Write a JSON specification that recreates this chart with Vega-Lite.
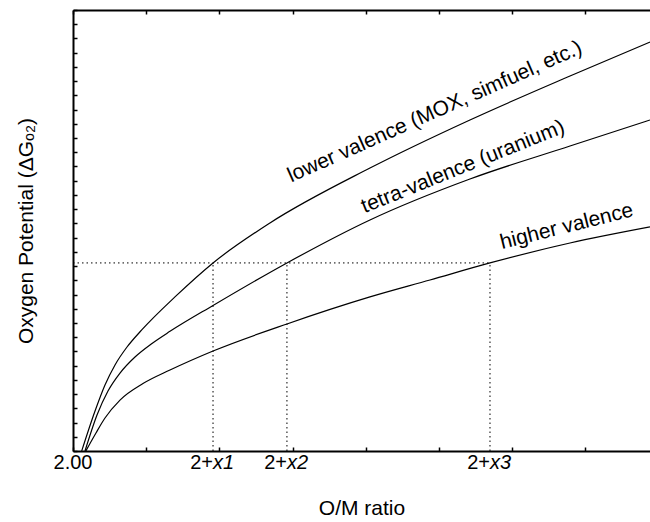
{
  "$schema": "https://vega.github.io/schema/vega-lite/v6.json",
  "width": 577,
  "height": 441,
  "autosize": {"type": "none"},
  "padding": {"left": 73, "top": 10, "right": 0, "bottom": 71},
  "background": "white",
  "config": {
    "view": {"stroke": null},
    "font": "Liberation Sans",
    "axis": {
      "domainColor": "black",
      "domainWidth": 2,
      "tickColor": "black",
      "tickWidth": 1.5,
      "tickSize": -4,
      "labels": false,
      "grid": false,
      "titleFont": "Liberation Sans",
      "titleFontSize": 21,
      "titleFontWeight": "normal",
      "titleColor": "black"
    }
  },
  "datasets": {
    "curves": [
      {"curve": "lower", "x": 0.119, "y": 0},
      {"curve": "lower", "x": 0.301, "y": 2.81},
      {"curve": "lower", "x": 0.437, "y": 4.64},
      {"curve": "lower", "x": 0.574, "y": 6.05},
      {"curve": "lower", "x": 0.738, "y": 7.31},
      {"curve": "lower", "x": 0.939, "y": 8.51},
      {"curve": "lower", "x": 1.393, "y": 10.83},
      {"curve": "lower", "x": 1.913, "y": 13.22},
      {"curve": "lower", "x": 2.691, "y": 16.03},
      {"curve": "lower", "x": 4.057, "y": 19.89},
      {"curve": "lower", "x": 5.423, "y": 23.27},
      {"curve": "lower", "x": 6.790, "y": 26.36},
      {"curve": "lower", "x": 7.883, "y": 28.75},
      {"curve": "tetra", "x": 0.164, "y": 0},
      {"curve": "tetra", "x": 0.328, "y": 2.53},
      {"curve": "tetra", "x": 0.478, "y": 4.22},
      {"curve": "tetra", "x": 0.642, "y": 5.48},
      {"curve": "tetra", "x": 0.847, "y": 6.61},
      {"curve": "tetra", "x": 1.079, "y": 7.56},
      {"curve": "tetra", "x": 1.325, "y": 8.41},
      {"curve": "tetra", "x": 1.913, "y": 10.23},
      {"curve": "tetra", "x": 2.923, "y": 13.22},
      {"curve": "tetra", "x": 4.057, "y": 16.24},
      {"curve": "tetra", "x": 5.423, "y": 19.12},
      {"curve": "tetra", "x": 6.790, "y": 21.44},
      {"curve": "tetra", "x": 7.883, "y": 23.27},
      {"curve": "higher", "x": 0.175, "y": 0},
      {"curve": "higher", "x": 0.314, "y": 1.27},
      {"curve": "higher", "x": 0.437, "y": 2.32},
      {"curve": "higher", "x": 0.642, "y": 3.58},
      {"curve": "higher", "x": 0.956, "y": 4.74},
      {"curve": "higher", "x": 1.325, "y": 5.69},
      {"curve": "higher", "x": 1.913, "y": 7.03},
      {"curve": "higher", "x": 2.923, "y": 8.93},
      {"curve": "higher", "x": 4.057, "y": 10.83},
      {"curve": "higher", "x": 4.877, "y": 12.02},
      {"curve": "higher", "x": 5.697, "y": 13.22},
      {"curve": "higher", "x": 6.790, "y": 14.62},
      {"curve": "higher", "x": 7.883, "y": 15.75}
    ],
    "guides": [
      {"x": 0, "x2": 5.697, "y": 13.22, "y2": 13.22},
      {"x": 1.913, "x2": 1.913, "y": 0, "y2": 13.22},
      {"x": 2.923, "x2": 2.923, "y": 0, "y2": 13.22},
      {"x": 5.697, "x2": 5.697, "y": 0, "y2": 13.22}
    ],
    "ticklabels": [
      {"x": 0, "t": "2.00", "part": "whole"},
      {"x": 1.913, "t": "2+", "part": "plain"},
      {"x": 1.913, "t": "x1", "part": "ital"},
      {"x": 2.923, "t": "2+", "part": "plain"},
      {"x": 2.923, "t": "x2", "part": "ital"},
      {"x": 5.697, "t": "2+", "part": "plain"},
      {"x": 5.697, "t": "x3", "part": "ital"}
    ],
    "labels": [
      {"x": 4.945, "y": 23.83, "t": "lower valence (MOX, simfuel, etc.)", "k": "a"},
      {"x": 5.328, "y": 19.96, "t": "tetra-valence (uranium)", "k": "b"},
      {"x": 6.745, "y": 15.77, "t": "higher valence", "k": "c"}
    ]
  },
  "resolve": {"axis": {"x": "independent", "y": "independent"}},
  "layer": [
    {
      "data": {"name": "curves"},
      "mark": {"type": "line", "color": "black", "strokeWidth": 1.2, "interpolate": "monotone"},
      "encoding": {
        "x": {
          "field": "x", "type": "quantitative",
          "scale": {"domain": [0, 7.883], "nice": false, "zero": false},
          "axis": {"values": [0, 1, 2, 3, 4, 5, 6, 7], "title": "O/M ratio", "titlePadding": 46}
        },
        "y": {
          "field": "y", "type": "quantitative",
          "scale": {"domain": [0, 31], "nice": false},
          "axis": {
            "values": [0,1,2,3,4,5,6,7,8,9,10,11,12,13,14,15,16,17,18,19,20,21,22,23,24,25,26,27,28,29,30,31],
            "title": "Oxygen Potential (ΔGₒ₂)", "titlePadding": 36
          }
        },
        "detail": {"field": "curve"}
      }
    },
    {
      "data": {"name": "guides"},
      "mark": {"type": "rule", "color": "black", "strokeWidth": 1, "strokeDash": [1.5, 3]},
      "encoding": {
        "x": {"field": "x", "type": "quantitative",
          "axis": {"orient": "top", "values": [0, 1, 2, 3, 4, 5, 6, 7], "title": null}},
        "x2": {"field": "x2"},
        "y": {"field": "y", "type": "quantitative", "axis": null},
        "y2": {"field": "y2"}
      }
    },
    {
      "data": {"name": "ticklabels"},
      "transform": [{"filter": "datum.part == 'whole'"}],
      "mark": {"type": "text", "align": "center", "baseline": "alphabetic", "dy": 18, "fontSize": 20, "color": "black"},
      "encoding": {
        "x": {"field": "x", "type": "quantitative", "axis": null},
        "y": {"datum": 0, "type": "quantitative", "axis": null},
        "text": {"field": "t"}
      }
    },
    {
      "data": {"name": "ticklabels"},
      "transform": [{"filter": "datum.part == 'plain'"}],
      "mark": {"type": "text", "align": "right", "baseline": "alphabetic", "dy": 18, "fontSize": 20, "color": "black"},
      "encoding": {
        "x": {"field": "x", "type": "quantitative", "axis": null},
        "y": {"datum": 0, "type": "quantitative", "axis": null},
        "text": {"field": "t"}
      }
    },
    {
      "data": {"name": "ticklabels"},
      "transform": [{"filter": "datum.part == 'ital'"}],
      "mark": {"type": "text", "align": "left", "baseline": "alphabetic", "dy": 18, "fontSize": 20, "fontStyle": "italic", "color": "black"},
      "encoding": {
        "x": {"field": "x", "type": "quantitative", "axis": null},
        "y": {"datum": 0, "type": "quantitative", "axis": null},
        "text": {"field": "t"}
      }
    },
    {
      "data": {"name": "labels"},
      "transform": [{"filter": "datum.k == 'a'"}],
      "mark": {"type": "text", "align": "center", "baseline": "middle", "fontSize": 21, "angle": -24, "color": "black"},
      "encoding": {
        "x": {"field": "x", "type": "quantitative", "axis": null},
        "y": {"field": "y", "type": "quantitative", "axis": null},
        "text": {"field": "t"}
      }
    },
    {
      "data": {"name": "labels"},
      "transform": [{"filter": "datum.k == 'b'"}],
      "mark": {"type": "text", "align": "center", "baseline": "middle", "fontSize": 21, "angle": -22, "color": "black"},
      "encoding": {
        "x": {"field": "x", "type": "quantitative", "axis": null},
        "y": {"field": "y", "type": "quantitative", "axis": null},
        "text": {"field": "t"}
      }
    },
    {
      "data": {"name": "labels"},
      "transform": [{"filter": "datum.k == 'c'"}],
      "mark": {"type": "text", "align": "center", "baseline": "middle", "fontSize": 21, "angle": -14, "color": "black"},
      "encoding": {
        "x": {"field": "x", "type": "quantitative", "axis": null},
        "y": {"field": "y", "type": "quantitative", "axis": null},
        "text": {"field": "t"}
      }
    }
  ]
}
